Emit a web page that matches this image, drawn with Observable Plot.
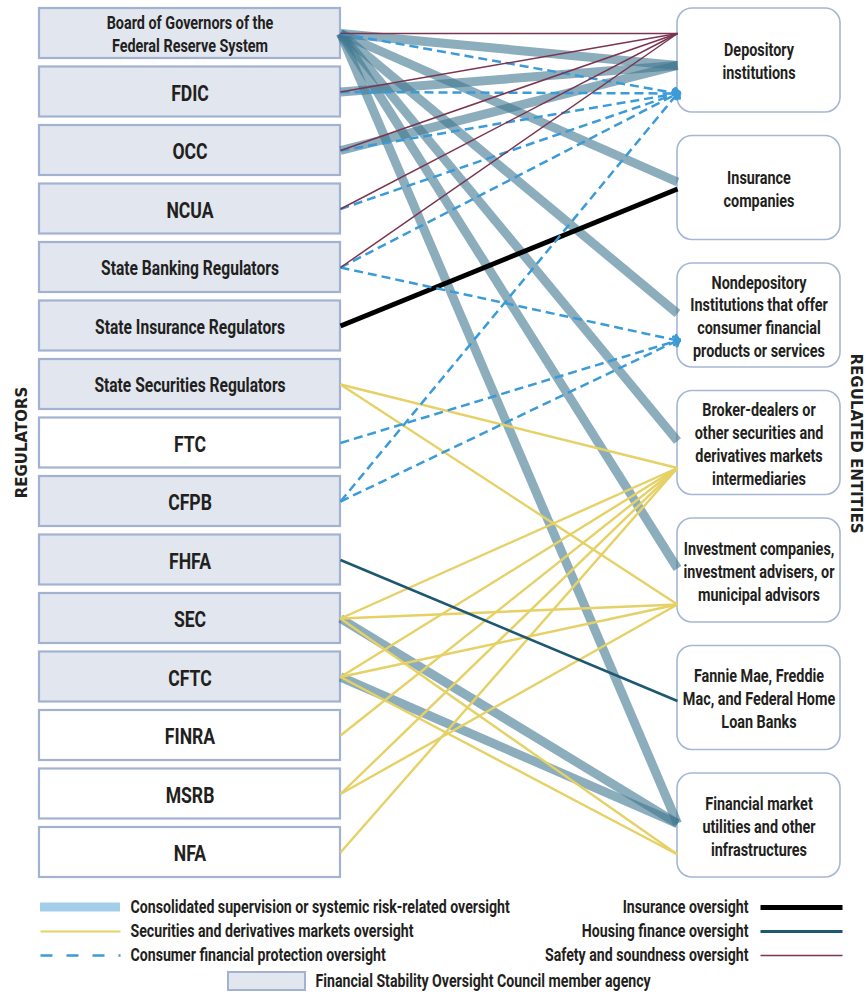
<!DOCTYPE html>
<html>
<head>
<meta charset="utf-8">
<script src="https://cdn.jsdelivr.net/npm/d3@7"></script>
<script src="https://cdn.jsdelivr.net/npm/@observablehq/plot@0.6"></script>
<style>
  html, body { margin: 0; padding: 0; background: #fff; }
</style>
</head>
<body>
<div id="chart"></div>
<script>
// ---------- DATA ----------
const regulatorIds = ["FRB","FDIC","OCC","NCUA","SBR","SIR","SSR","FTC","CFPB","FHFA","SEC","CFTC","FINRA","MSRB","NFA"];
const regulatorLabels = [
  "Board of Governors of the\nFederal Reserve System","FDIC","OCC","NCUA",
  "State Banking Regulators","State Insurance Regulators","State Securities Regulators",
  "FTC","CFPB","FHFA","SEC","CFTC","FINRA","MSRB","NFA"
];
const fsocMembers = ["FRB","FDIC","OCC","NCUA","SBR","SIR","SSR","CFPB","FHFA","SEC","CFTC"];

const entityIds = ["DEP","INS","NDI","BD","IC","GSE","FMU"];
const entityLabels = [
  "Depository\ninstitutions",
  "Insurance\ncompanies",
  "Nondepository\nInstitutions that offer\nconsumer financial\nproducts or services",
  "Broker-dealers or\nother securities and\nderivatives markets\nintermediaries",
  "Investment companies,\ninvestment advisers, or\nmunicipal advisors",
  "Fannie Mae, Freddie\nMac, and Federal Home\nLoan Banks",
  "Financial market\nutilities and other\ninfrastructures"
];

const consolidatedLinks = [["FRB","DEP"],["FRB","INS"],["FRB","NDI"],["FRB","BD"],["FRB","IC"],["FRB","FMU"],["FDIC","DEP"],["OCC","DEP"],["SEC","FMU"],["CFTC","FMU"]];
const securitiesLinks = [["SSR","BD"],["SSR","IC"],["SEC","BD"],["SEC","IC"],["SEC","FMU"],["CFTC","BD"],["CFTC","IC"],["CFTC","FMU"],["FINRA","BD"],["MSRB","BD"],["MSRB","IC"],["NFA","BD"]];
const consumerLinks = [["FRB","DEP"],["FDIC","DEP"],["OCC","DEP"],["NCUA","DEP"],["SBR","DEP"],["SBR","NDI"],["FTC","NDI"],["CFPB","DEP"],["CFPB","NDI"]];
const insuranceLinks = [["SIR","INS"]];
const housingLinks = [["FHFA","GSE"]];
const safetyLinks = [["FRB","DEP"],["FDIC","DEP"],["OCC","DEP"],["NCUA","DEP"],["SBR","DEP"]];

const legendLeftLabels = ["Consolidated supervision or systemic risk-related oversight","Securities and derivatives markets oversight","Consumer financial protection oversight"];
const legendRightLabels = ["Insurance oversight","Housing finance oversight","Safety and soundness oversight"];
const legendMemberLabel = "Financial Stability Oversight Council member agency";
const axisLabels = ["REGULATORS","REGULATED ENTITIES"];

// ---------- LAYOUT ----------
const W = 867, H = 996;
const L = {x1: 39, x2: 340, top: 8, h: 50, pitch: 58.5};
const R = {x1: 677, x2: 840, top: 8, h: 104, pitch: 127.5};
const anchor = { // offset of line end inside right box, px from box top
  safety: {def: 25},
  consolidated: {def: 50, DEP: 57, INS: 46},
  consumer: {def: 80, DEP: 85, NDI: 77},
  securities: {def: 81, BD: 77, IC: 86},
  insurance: {def: 53},
  housing: {def: 55}
};
const styles = {
  consolidated: {stroke: "#3f7690", strokeOpacity: 0.6, strokeWidth: 9},
  securities: {stroke: "#e5d165", strokeWidth: 2.4},
  consumer: {stroke: "#3b9bd8", strokeWidth: 2.5, strokeDasharray: "9,5"},
  insurance: {stroke: "#000000", strokeWidth: 5},
  housing: {stroke: "#1d5870", strokeWidth: 2.6},
  safety: {stroke: "#7a3550", strokeWidth: 1.5}
};
const CFONT = "Roboto, 'DejaVu Sans', sans-serif";
const AFONT = "'DejaVu Sans', sans-serif";
const SQUEEZE = 0.8;
const TEXT = "#231f20";
const cond = {fontFamily: CFONT, fontWeight: "bold", fill: TEXT, ariaDescription: "condensed"};

const regs = regulatorIds.map((id, i) => ({
  id, label: regulatorLabels[i], member: fsocMembers.includes(id),
  y1: L.top + i * L.pitch, y2: L.top + i * L.pitch + L.h, cy: L.top + i * L.pitch + L.h / 2
}));
const ents = entityIds.map((id, i) => ({
  id, label: entityLabels[i], y1: R.top + i * R.pitch, y2: R.top + i * R.pitch + R.h, cy: R.top + i * R.pitch + R.h / 2
}));
const regById = Object.fromEntries(regs.map(d => [d.id, d]));
const entById = Object.fromEntries(ents.map(d => [d.id, d]));

function linkRows(list, type) {
  return list.map(([r, e]) => {
    const a = anchor[type];
    return {x1: L.x2, y1: regById[r].cy, x2: R.x1, y2: entById[e].y1 + (a[e] ?? a.def)};
  });
}

const legRowY = [907, 931, 955];
const legLeft = legendLeftLabels.map((label, i) => ({label, y: legRowY[i]}));
const legRight = legendRightLabels.map((label, i) => ({label, y: legRowY[i]}));
const LEGFS = 17.7;

const marks = [
  Plot.rect(regs, {x1: L.x1, x2: L.x2, y1: "y1", y2: "y2", fill: d => d.member ? "#e1e6ef" : "#ffffff", stroke: "#a2b2d0", strokeWidth: 2.2}),
  Plot.text(regs, {x: (L.x1 + L.x2) / 2, y: "cy", text: "label", ...cond,
    fontSize: d => d.id === "FRB" ? 18 : (d.label.length > 6 ? 19.5 : 22), lineHeight: 1.25}),
  Plot.rect(ents, {x1: R.x1, x2: R.x2, y1: "y1", y2: "y2", rx: 15, fill: "#ffffff", stroke: "#a7b6d3", strokeWidth: 1.6}),
  Plot.text(ents, {x: (R.x1 + R.x2) / 2, y: "cy", text: "label", ...cond, fontSize: 18, lineHeight: 1.27}),
  Plot.link(linkRows(consolidatedLinks, "consolidated"), {x1: "x1", y1: "y1", x2: "x2", y2: "y2", ...styles.consolidated}),
  Plot.link(linkRows(insuranceLinks, "insurance"), {x1: "x1", y1: "y1", x2: "x2", y2: "y2", ...styles.insurance}),
  Plot.link(linkRows(securitiesLinks, "securities"), {x1: "x1", y1: "y1", x2: "x2", y2: "y2", ...styles.securities}),
  Plot.link(linkRows(housingLinks, "housing"), {x1: "x1", y1: "y1", x2: "x2", y2: "y2", ...styles.housing}),
  Plot.link(linkRows(consumerLinks, "consumer"), {x1: "x1", y1: "y1", x2: "x2", y2: "y2", ...styles.consumer, markerEnd: "arrow"}),
  Plot.link(linkRows(safetyLinks, "safety"), {x1: "x1", y1: "y1", x2: "x2", y2: "y2", ...styles.safety}),
  Plot.text([axisLabels[0]], {x: 22, y: 442, text: d => d, rotate: -90, fill: TEXT, fontFamily: AFONT, fontWeight: "bold", fontSize: 15}),
  Plot.text([axisLabels[1]], {x: 855, y: 443, text: d => d, rotate: 90, fill: TEXT, fontFamily: AFONT, fontWeight: "bold", fontSize: 15}),
  Plot.rect([legLeft[0]], {x1: 40, x2: 120, y1: d => d.y - 4.5, y2: d => d.y + 4.5, fill: "#a3cde9"}),
  Plot.link([legLeft[1]], {x1: 40, x2: 120, y1: "y", y2: "y", stroke: styles.securities.stroke, strokeWidth: 2.2}),
  Plot.link([legLeft[2]], {x1: 40, x2: 120, y1: "y", y2: "y", stroke: styles.consumer.stroke, strokeWidth: 2.5, strokeDasharray: "12,14"}),
  Plot.text(legLeft, {x: 130, y: "y", text: "label", textAnchor: "start", ...cond, fontSize: LEGFS}),
  Plot.text(legRight, {x: 748, y: "y", text: "label", textAnchor: "end", ...cond, fontSize: LEGFS}),
  Plot.link([legRight[0]], {x1: 760, x2: 842, y1: "y", y2: "y", stroke: "#000", strokeWidth: 5}),
  Plot.link([legRight[1]], {x1: 760, x2: 842, y1: "y", y2: "y", stroke: styles.housing.stroke, strokeWidth: 3}),
  Plot.link([legRight[2]], {x1: 760, x2: 842, y1: "y", y2: "y", stroke: styles.safety.stroke, strokeWidth: 1.5}),
  Plot.rect([legendMemberLabel], {x1: 228, x2: 305, y1: 972, y2: 990, fill: "#e1e6ef", stroke: "#a2b2d0", strokeWidth: 2}),
  Plot.text([legendMemberLabel], {x: 315, y: 981, text: d => d, textAnchor: "start", ...cond, fontSize: LEGFS})
];

const chart = Plot.plot({
  width: W, height: H, margin: 0,
  x: {type: "linear", domain: [0, W], range: [0, W], axis: null},
  y: {type: "linear", domain: [0, H], range: [0, H], axis: null},
  style: {background: "#fff"},
  marks
});
// horizontally condense the box and legend text (no condensed font is installed)
d3.select(chart).selectAll('g[aria-description="condensed"] text').each(function () {
  const t = this.getAttribute("transform") || "";
  this.setAttribute("transform", t + ` scale(${SQUEEZE},1)`);
});
document.getElementById("chart").appendChild(chart);
</script>
</body>
</html>
